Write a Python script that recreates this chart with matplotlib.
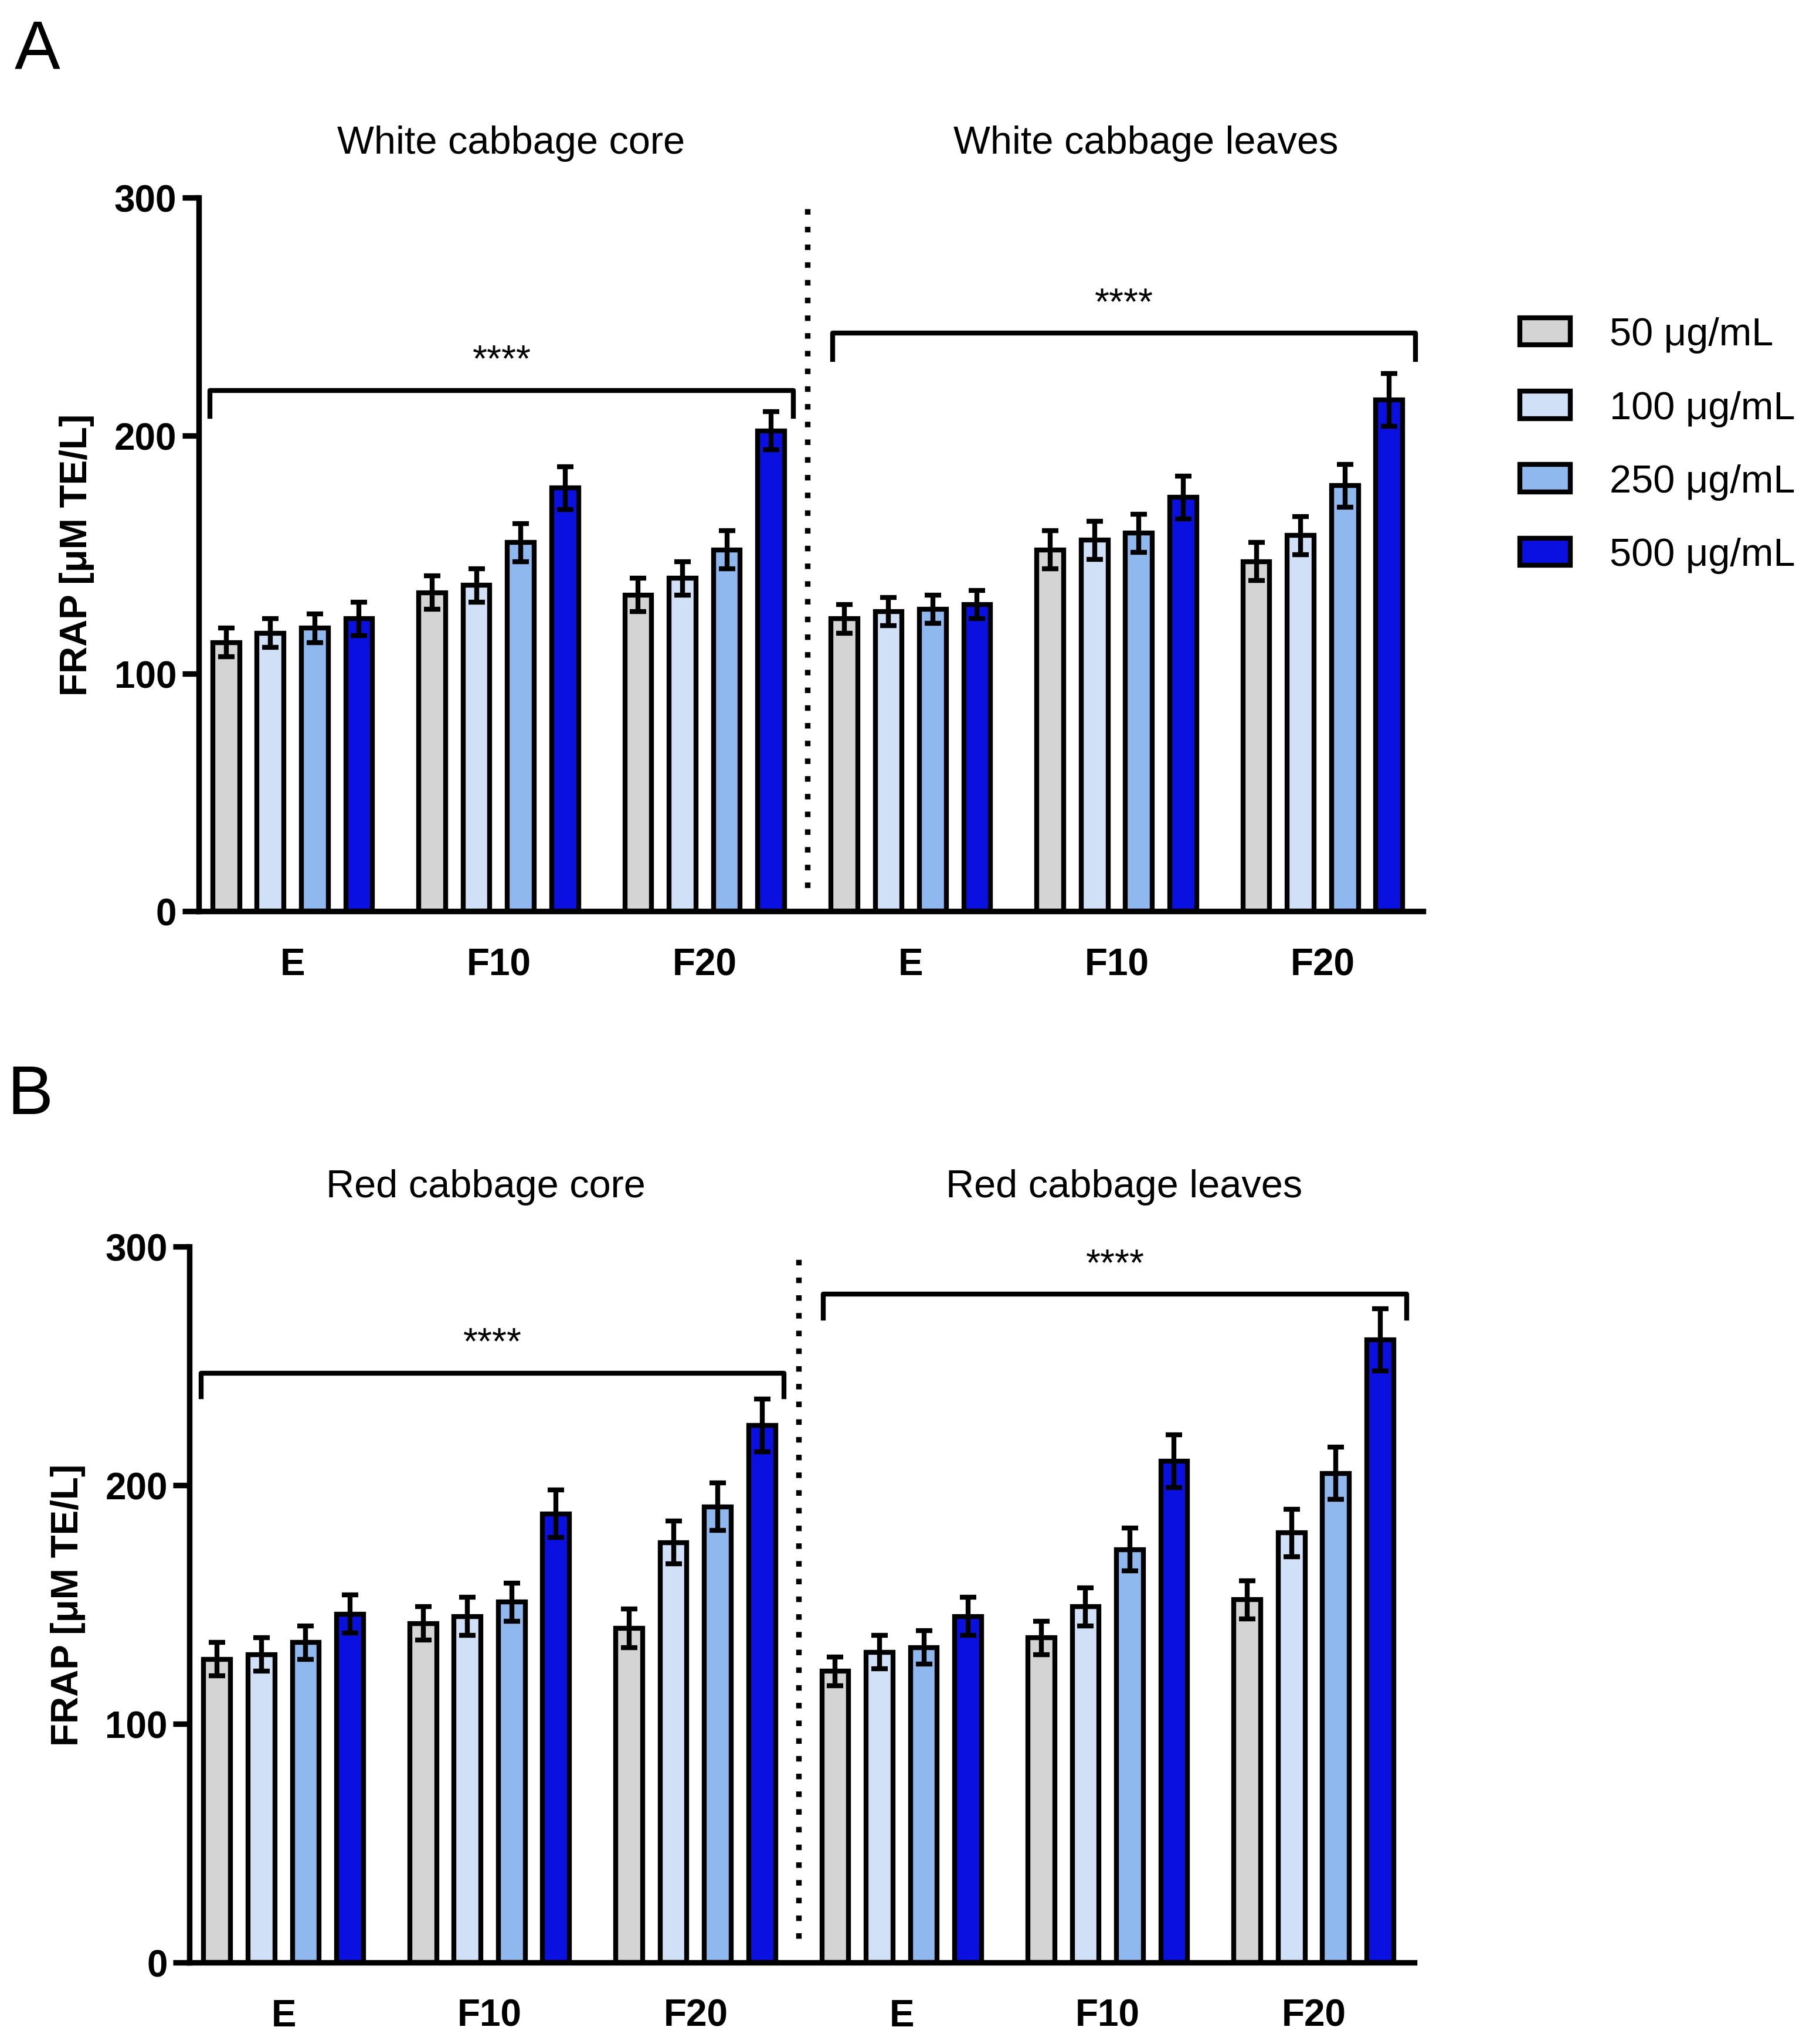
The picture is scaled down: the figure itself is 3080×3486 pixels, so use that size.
import matplotlib
matplotlib.use("Agg")
import matplotlib.pyplot as plt
import numpy as np

plt.rcParams['font.family'] = ['Liberation Sans', 'DejaVu Sans']

groups = ["E", "F10", "F20", "E", "F10", "F20"]
conc = ["50 \u03bcg/mL", "100 \u03bcg/mL", "250 \u03bcg/mL", "500 \u03bcg/mL"]
colors = ["#d4d4d4", "#cfe0f7", "#8fb8ee", "#0a10e0"]

# rows: group (core E, F10, F20, leaves E, F10, F20); cols: concentration
vals_a = [[113, 117, 119, 123], [134, 137, 155, 178], [133, 140, 152, 202],
          [123, 126, 127, 129], [152, 156, 159, 174], [147, 158, 179, 215]]
err_a = [[6, 6, 6, 7], [7, 7, 8, 9], [7, 7, 8, 8],
         [6, 6, 6, 6], [8, 8, 8, 9], [8, 8, 9, 11]]
vals_b = [[127, 129, 134, 146], [142, 145, 151, 188], [140, 176, 191, 225],
          [122, 130, 132, 145], [136, 149, 173, 210], [152, 180, 205, 261]]
err_b = [[7, 7, 7, 8], [7, 8, 8, 10], [8, 9, 10, 11],
         [6, 7, 7, 8], [7, 8, 9, 11], [8, 10, 11, 13]]

titles_a = ["White cabbage core", "White cabbage leaves"]
titles_b = ["Red cabbage core", "Red cabbage leaves"]
# bracket: (x0, x1, y, leg bottom)
brackets_a = [(-0.40, 2.43, 219, 208), (2.62, 5.45, 243, 232)]
brackets_b = [(-0.40, 2.43, 247, 237), (2.62, 5.45, 280, 270)]

fig = plt.figure(figsize=(15.4, 17.435), dpi=200)
LW = 3.4


def panel(rect, vals, errs, titles, brackets, letter, letter_pos, title_y, tx):
    ax = fig.add_axes(rect)
    vals = np.array(vals)
    errs = np.array(errs)
    off = 0.215
    w = 0.13
    x = np.arange(len(groups))
    for j in range(4):
        xs = x + (j - 1.5) * off
        ax.bar(xs, vals[:, j], w, color=colors[j], edgecolor="black",
               linewidth=3.0, zorder=2, label=conc[j])
        ax.errorbar(xs, vals[:, j], yerr=errs[:, j], fmt="none", ecolor="black",
                    elinewidth=3.0, capsize=5, capthick=3.0, zorder=3)
    ax.set_xlim(-0.456, 5.487)
    ax.set_ylim(0, 300)
    ax.set_yticks([0, 100, 200, 300])
    ax.set_xticks(x)
    ax.set_xticklabels(groups)
    for s in ["top", "right"]:
        ax.spines[s].set_visible(False)
    for s in ["left", "bottom"]:
        ax.spines[s].set_linewidth(LW)
    ax.tick_params(axis="both", width=LW, length=10, labelsize=23)
    ax.tick_params(axis="x", length=0, pad=22)
    for t in ax.get_xticklabels() + ax.get_yticklabels():
        t.set_fontweight("bold")
    ax.set_ylabel("FRAP [\u03bcM TE/L]", fontsize=23, fontweight="bold", labelpad=12)
    ax.plot([2.5, 2.5], [10, 297], ls=(0, (1, 2.2)), color="black", lw=3.4,
            clip_on=False)
    for x0, x1, y, yb in brackets:
        ax.plot([x0, x0, x1, x1], [yb, y, y, yb], color="black", lw=3.0,
                clip_on=False)
        ax.text((x0 + x1) / 2, y + 5, "****", ha="center", va="bottom",
                fontsize=23)
    for t, xx in zip(titles, tx):
        ax.text(xx, title_y, t, ha="center", va="center", fontsize=24,
                transform=ax.transData, clip_on=False)
    fig.text(letter_pos[0], letter_pos[1], letter, fontsize=42, ha="left",
             va="center")
    return ax


ax_a = panel([0.110, 0.554, 0.678, 0.349], vals_a, err_a, titles_a,
             brackets_a, "A", (0.008, 0.975), 323, [1.06, 4.14])
panel([0.105, 0.040, 0.678, 0.350], vals_b, err_b, titles_b,
      brackets_b, "B", (0.004, 0.464), 325, [0.98, 4.08])

h, l = ax_a.get_legend_handles_labels()
fig.legend(h, l, loc="upper left", bbox_to_anchor=(0.822, 0.862),
           frameon=False, fontsize=24, handlelength=1.3, handleheight=0.7,
           labelspacing=0.95, handletextpad=1.0)

fig.savefig("out.png", dpi=200)
